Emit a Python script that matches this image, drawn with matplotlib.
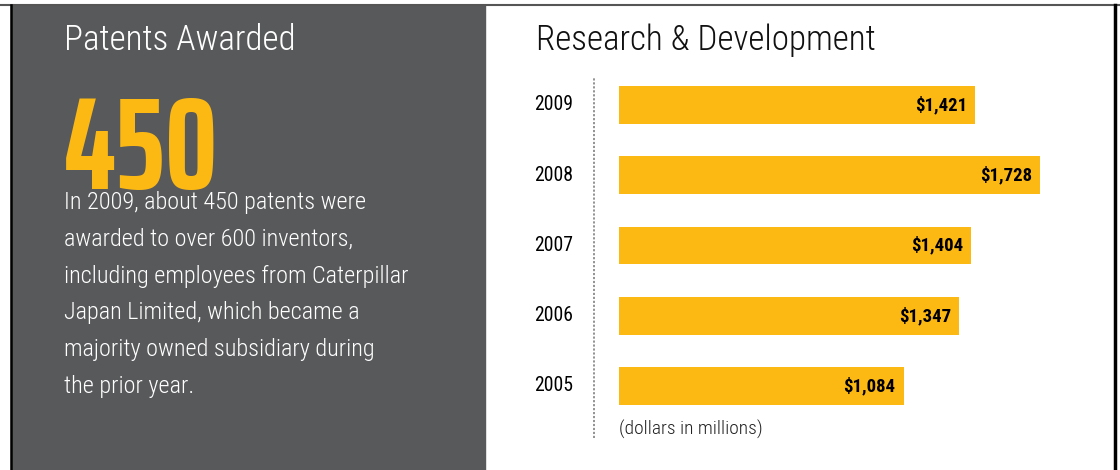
import matplotlib
matplotlib.use("Agg")
import matplotlib.pyplot as plt
from matplotlib.patches import Rectangle
from matplotlib.lines import Line2D
from matplotlib.transforms import blended_transform_factory

W, H = 1120, 470
YELLOW = "#fdb913"
PANEL = "#58595b"
TEXT_FONT = ["Roboto Condensed", "DejaVu Sans"]
BIG_FONT = ["Saira ExtraCondensed", "Roboto Condensed", "DejaVu Sans"]

years = ["2005", "2006", "2007", "2008", "2009"]
rd_spend = [1084, 1347, 1404, 1728, 1421]
patents = 450
blurb = [
    "In 2009, about 450 patents were",
    "awarded to over 600 inventors,",
    "including employees from Caterpillar",
    "Japan Limited, which became a",
    "majority owned subsidiary during",
    "the prior year.",
]

# bars start a little left of zero so short bars still read well
bar_base = -260

plt.rcParams["font.family"] = TEXT_FONT


def fx(x):
    return x / W


def fy(y):
    return 1 - y / H


fig = plt.figure(figsize=(W / 100, H / 100), dpi=100)
fig.patch.set_facecolor("white")

# dark left panel and frame
fig.patches.append(Rectangle((fx(11), 0), fx(485) - fx(11), fy(5),
                             transform=fig.transFigure, color=PANEL, zorder=0))
fig.lines.append(Line2D([0, 1], [fy(5), fy(5)], transform=fig.transFigure,
                        color="#555555", lw=1.5))
fig.lines.append(Line2D([fx(10.5), fx(10.5)], [0, fy(5)], transform=fig.transFigure,
                        color="black", lw=1.8))
fig.lines.append(Line2D([fx(1115), fx(1115)], [0, fy(5)], transform=fig.transFigure,
                        color="black", lw=2.5))

# left panel text
fig.text(fx(64), fy(50), "Patents Awarded", color="white", fontsize=25.3,
         fontweight=300, va="baseline", ha="left")
fig.text(fx(64), fy(189), str(patents), color=YELLOW, fontsize=95,
         fontweight="bold", family=BIG_FONT, va="baseline", ha="left")
for i, line in enumerate(blurb):
    fig.text(fx(64), fy(209 + i * 36.8), line, color="white", fontsize=17.5,
             fontweight=300, va="baseline", ha="left")

# right panel
fig.text(fx(536), fy(50), "Research & Development", color="#111111",
         fontsize=25.3, fontweight=300, va="baseline", ha="left")

ax = fig.add_axes([fx(580), fy(440), fx(1100) - fx(580), fy(70) - fy(440)])
ypos = list(range(len(years)))
ax.barh(ypos, [v - bar_base for v in rd_spend], left=bar_base, height=0.54,
        color=YELLOW)
ylab = blended_transform_factory(fig.transFigure, ax.transData)
for y, v in zip(ypos, rd_spend):
    ax.annotate(f"${v:,}", (v, y), xytext=(-5.8, 0), textcoords="offset points",
                ha="right", va="center", fontsize=13.5, fontweight="bold",
                color="black")
    ax.text(fx(573), y, years[y], transform=ylab, ha="right", va="center",
            fontsize=14.2, color="black")
ax.set_xlim(-444.2, 2011.3)
ax.set_ylim(-0.769, 4.498)
ax.axis("off")

ax.text(bar_base, -0.62, "(dollars in millions)", ha="left", va="center",
        fontsize=14, fontweight=300, color="#222222")

# dotted guide next to the year labels
fig.lines.append(Line2D([fx(594), fx(594)], [fy(438), fy(77)],
                        transform=fig.transFigure, color="#8a8a8a", lw=1.3,
                        linestyle=(0, (1.2, 1.0))))

fig.savefig("out.png", dpi=100, facecolor=fig.get_facecolor())
